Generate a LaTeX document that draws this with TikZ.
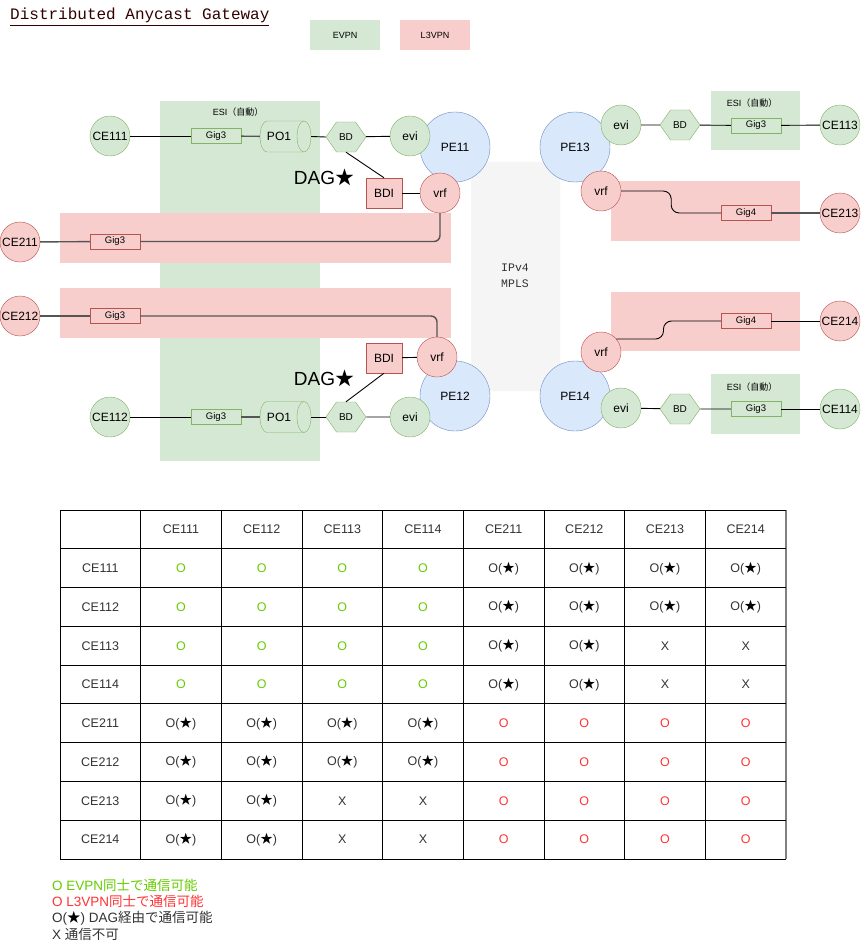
\documentclass[tikz,border=0pt]{standalone}
\usepackage{fontspec}
\setmainfont{Liberation Sans}
\setmonofont{Liberation Mono}
\newfontfamily\jp{Noto Sans CJK JP}
\usetikzlibrary{shapes.geometric,shapes.symbols}
\definecolor{gfill}{HTML}{D5E8D4}
\definecolor{gline}{HTML}{82B366}
\definecolor{rfill}{HTML}{F8CECC}
\definecolor{rline}{HTML}{B85450}
\definecolor{bfill}{HTML}{DAE8FC}
\definecolor{bline}{HTML}{6C8EBF}
\definecolor{grayfill}{HTML}{F5F5F5}
\definecolor{okgreen}{HTML}{66CC00}
\definecolor{okred}{HTML}{FF3333}
\definecolor{txt}{HTML}{333333}
\definecolor{titlec}{HTML}{330000}
\definecolor{edge}{HTML}{555555}
\newcommand\fs[1]{\fontsize{#1}{#1}\selectfont}
\newcommand\cellG{\textcolor{okgreen}{O}}
\newcommand\cellR{\textcolor{okred}{O}}
\newcommand\cellS{O({\jp\textcolor{black}{★}})}
\newcommand\cellX{X}
% horizontal cylinder drawn around a named (empty) node
\newcommand\pocylinder[1]{%
  \draw[gline, fill=gfill] (#1.center) ++(18.5,-15.5) -- ++(-37,0)
    arc[start angle=90, end angle=270, x radius=7pt, y radius=15.5pt] -- ++(37,0)
    arc[start angle=-90, end angle=90, x radius=7pt, y radius=15.5pt];
  \draw[gline] (#1.center) ++(18.5,-15.5)
    arc[start angle=90, end angle=270, x radius=7pt, y radius=15.5pt];
}
\tikzset{
  gcirc/.style={circle, draw=gline, fill=gfill, minimum size=40pt, inner sep=0pt, font=\fs{12}},
  rcirc/.style={circle, draw=rline, fill=rfill, minimum size=40pt, inner sep=0pt, font=\fs{12}},
  pecirc/.style={circle, draw=bline, fill=bfill, minimum size=70pt, inner sep=0pt, font=\fs{12}},
  gig/.style={rectangle, draw=gline, fill=gfill, minimum width=50pt, minimum height=15pt, inner sep=0pt, font=\fs{9.5}},
  rgig/.style={gig, draw=rline, fill=rfill},
  bdhex/.style={signal, signal to=east and west, signal pointer angle=110, draw=gline, fill=gfill, minimum width=40pt, minimum height=30pt, inner sep=0pt, font=\fs{10}},
  bdibox/.style={rectangle, draw=rline, fill=rfill, minimum width=36pt, minimum height=30pt, inner sep=0pt, font=\fs{12}},
  pobox/.style={rectangle, minimum width=51pt, minimum height=31pt, inner sep=0pt},
  potext/.style={font=\fs{12}, inner sep=0pt},
  link/.style={draw=black, line width=0.9pt},
  thk/.style={draw=edge, line width=1.4pt},
  esilabel/.style={font=\fs{9}, inner sep=0pt},
  daglabel/.style={font=\fs{19}, inner sep=0pt},
  legendbox/.style={rectangle, minimum width=70pt, minimum height=30pt, inner sep=0pt, font=\fs{9}},
  celltxt/.style={font=\fs{12.5}, text=txt, inner sep=0pt},
  notetxt/.style={font=\fs{13.5}, inner sep=0pt, anchor=west},
}
\begin{document}
\begin{tikzpicture}[x=1pt,y=-1pt]
\useasboundingbox[fill=white] (0,0) rectangle (862,952);

% title and legend
\node[anchor=base west, inner sep=0pt, font=\ttfamily\fs{16}, text=titlec] (title) at (10,20) {\underline{Distributed Anycast Gateway}};
\node[legendbox, fill=gfill] (legevpn) at (345,35.5) {EVPN};
\node[legendbox, fill=rfill] (legl3) at (435,35.5) {L3VPN};

% background regions
\fill[gfill] (160,101) rectangle (320,461);
\fill[rfill] (60,213) rectangle (451,263);
\fill[rfill] (60,288) rectangle (451,338);
\fill[grayfill, rounded corners=10pt] (471,162) rectangle (560,391);
\node[align=center, font=\ttfamily\fs{11.5}, text=txt, inner sep=0pt] (mpls) at (515,276) {IPv4\\[4pt]MPLS};
\fill[gfill] (711,91) rectangle (800,150);
\fill[gfill] (711,374) rectangle (800,434);
\fill[rfill] (611,181) rectangle (800,241);
\fill[rfill] (611,292) rectangle (800,351);
\node[esilabel] (esi1) at (238,112) {ESI{\jp（自動）}};
\node[esilabel] (esi3) at (752,103) {ESI{\jp（自動）}};
\node[esilabel] (esi4) at (752,387) {ESI{\jp（自動）}};

% PE routers
\node[pecirc] (pe11) at (455,147) {PE11};
\node[pecirc] (pe12) at (455,396) {PE12};
\node[pecirc] (pe13) at (575,147) {PE13};
\node[pecirc] (pe14) at (575,396) {PE14};

% left upper
\node[gcirc] (ce111) at (110,136) {CE111};
\node[gig] (g111) at (216,136) {Gig3};
\node[pobox] (po1) at (285.5,136.5) {};
\pocylinder{po1}
\node[potext] (po1t) at (279,136.5) {PO1};
\node[bdhex] (bd1) at (346,137) {BD};
\node[gcirc] (evi1) at (410,136) {evi};
\node[bdibox] (bdi1) at (384,193) {BDI};
\node[rcirc] (vrf1) at (440,193) {vrf};
\node[daglabel] (dag1) at (324,177) {DAG{\jp ★}};

% CE211 / CE212
\node[rcirc] (ce211) at (20,242) {CE211};
\node[rgig] (g211) at (115,241.5) {Gig3};
\node[rcirc] (ce212) at (20,316) {CE212};
\node[rgig] (g212) at (115,316) {Gig3};

% left lower
\node[gcirc] (ce112) at (110,417) {CE112};
\node[gig] (g112) at (216,417) {Gig3};
\node[pobox] (po2) at (285.5,417) {};
\pocylinder{po2}
\node[potext] (po2t) at (279,417) {PO1};
\node[bdhex] (bd2) at (346,417) {BD};
\node[gcirc] (evi2) at (410,417) {evi};
\node[bdibox] (bdi2) at (384,358) {BDI};
\node[rcirc] (vrf2) at (437,357) {vrf};
\node[daglabel] (dag2) at (324,378) {DAG{\jp ★}};

% right upper
\node[gcirc] (evi3) at (621,125) {evi};
\node[bdhex] (bd3) at (680,125) {BD};
\node[gig] (g113) at (756,125.5) {Gig3};
\node[gcirc] (ce113) at (840,125) {CE113};
\node[rcirc] (vrf3) at (601,191) {vrf};
\node[rgig] (g213) at (746,213) {Gig4};
\node[rcirc] (ce213) at (840,213) {CE213};

% right lower
\node[rcirc] (vrf4) at (601,352) {vrf};
\node[rgig] (g214) at (746,321) {Gig4};
\node[rcirc] (ce214) at (840,321) {CE214};
\node[gcirc] (evi4) at (621,408) {evi};
\node[bdhex] (bd4) at (680,409) {BD};
\node[gig] (g114) at (756,409) {Gig3};
\node[gcirc] (ce114) at (840,409) {CE114};

% connectors
\draw[link] (ce111) -- (g111);
\draw[thk] (g111) -- (po1);
\draw[link] (po1.east) -- (bd1.west);
\draw[link] (bd1) -- (evi1);
\draw[link] (bd1.south) -- (bdi1.north);
\draw[link] (bdi1) -- (vrf1);
\draw[thk, rounded corners=6pt] (vrf1.south) |- (g211.east);
\draw[thk] (g211) -- (ce211);
\draw[thk] (ce212) -- (g212);
\draw[thk, rounded corners=6pt] (g212.east) -| (vrf2.north);
\draw[link] (ce112) -- (g112);
\draw[thk] (g112) -- (po2);
\draw[link] (po2.east) -- (bd2.west);
\draw[link] (bd2) -- (evi2);
\draw[link] (bd2.north) -- (bdi2.south);
\draw[link] (bdi2) -- (vrf2);
\draw[link] (evi3) -- (bd3);
\draw[link] (bd3) -- (g113);
\draw[link] (g113) -- (ce113);
\draw[link, rounded corners=8pt] (vrf3.east) -- ++(50,0) |- (g213.west);
\draw[thk] (g213) -- (ce213);
\draw[link, rounded corners=8pt] (vrf4.40) -- ++(47,0) |- (g214.west);
\draw[link] (g214) -- (ce214);
\draw[link] (evi4) -- (bd4);
\draw[link] (bd4) -- (g114);
\draw[link] (g114) -- (ce114);

% table
\def\cw{80.667}
\def\rh{38.78}
\foreach \i in {0,...,8} \draw[line width=0.9pt] (60+\i*\cw,510) -- (60+\i*\cw,859);
\draw[line width=2pt, draw=gray] (786,510) -- (786,859);
\foreach \j in {0,...,9} \draw[line width=0.9pt] (60,510+\j*\rh) -- (786,510+\j*\rh);
\foreach [count=\c] \h in {CE111,CE112,CE113,CE114,CE211,CE212,CE213,CE214}
  \node[celltxt] (h-\c) at (60+\c*\cw+0.5*\cw,510+0.5*\rh) {\h};
\foreach [count=\r] \nm/\cells in {CE111/{G,G,G,G,S,S,S,S},CE112/{G,G,G,G,S,S,S,S},CE113/{G,G,G,G,S,S,X,X},CE114/{G,G,G,G,S,S,X,X},CE211/{S,S,S,S,R,R,R,R},CE212/{S,S,S,S,R,R,R,R},CE213/{S,S,X,X,R,R,R,R},CE214/{S,S,X,X,R,R,R,R}}{
  \node[celltxt] (r-\r) at (60+0.5*\cw,510+\r*\rh+0.5*\rh) {\nm};
  \foreach [count=\c] \v in \cells
    \node[celltxt] (t-\r-\c) at (60+\c*\cw+0.5*\cw,510+\r*\rh+0.5*\rh) {\csname cell\v\endcsname};
}

% notes
\node[notetxt, text=okgreen] (n1) at (52,885) {O EVPN{\jp 同士で通信可能}};
\node[notetxt, text=okred] (n2) at (52,901.5) {O L3VPN{\jp 同士で通信可能}};
\node[notetxt, text=txt] (n3) at (52,918) {O({\jp\textcolor{black}{★}}) DAG{\jp 経由で通信可能}};
\node[notetxt, text=txt] (n4) at (52,934) {X {\jp 通信不可}};
\end{tikzpicture}
\end{document}
